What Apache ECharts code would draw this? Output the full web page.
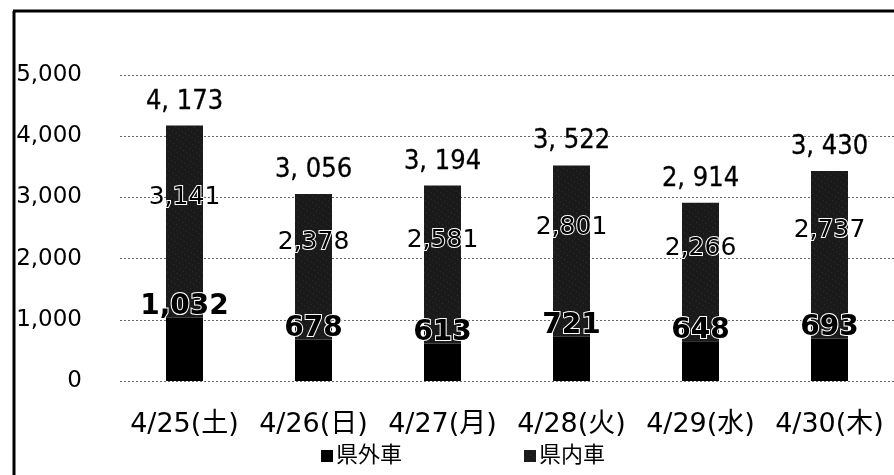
<!DOCTYPE html>
<html>
<head>
<meta charset="utf-8">
<script src="https://cdn.jsdelivr.net/npm/echarts@6/dist/echarts.min.js"></script>
<style>
  html, body { margin: 0; padding: 0; background: #fff; }
  #chart { width: 894px; height: 475px; }
</style>
</head>
<body>
<div id="chart"></div>
<script>
// 日付ごとの県外車・県内車の台数
const categories = ['4/25(土)', '4/26(日)', '4/27(月)', '4/28(火)', '4/29(水)', '4/30(木)'];
const outsideCars = [1032, 678, 613, 721, 648, 693];     // 県外車
const insideCars = [3141, 2378, 2581, 2801, 2266, 2737]; // 県内車
const yTicks = [0, 1000, 2000, 3000, 4000, 5000];

const totals = categories.map((_, i) => outsideCars[i] + insideCars[i]);

const sansFont = '"DejaVu Sans", "Noto Sans CJK JP", sans-serif';
const narrowFont = '"Liberation Sans Narrow", "DejaVu Sans Condensed", "Liberation Sans", sans-serif';
const fmt = v => Number(v).toLocaleString('en-US');

const chart = echarts.init(document.getElementById('chart'));

const speckle = {
  symbol: 'rect',
  symbolSize: 0.5,
  dashArrayX: [1, 3],
  dashArrayY: [1, 4],
  rotation: 0.6,
  color: 'rgba(255,255,255,0.4)'
};

chart.setOption({
  animation: false,
  backgroundColor: '#fff',
  grid: { left: 120, right: 0, top: 75, bottom: 94, containLabel: false },
  legend: {
    left: 316,
    top: 440,
    itemWidth: 12,
    itemHeight: 12,
    itemGap: 122,
    icon: 'rect',
    textStyle: { fontFamily: sansFont, fontSize: 22, color: '#000', padding: [0, 0, 0, -2] },
    data: ['県外車', '県内車']
  },
  xAxis: {
    type: 'category',
    data: categories,
    axisLine: { show: false },
    axisTick: { show: false },
    axisLabel: { fontFamily: sansFont, fontSize: 27, color: '#000', margin: 30, interval: 0 }
  },
  yAxis: {
    type: 'value',
    min: yTicks[0],
    max: yTicks[yTicks.length - 1],
    interval: 1000,
    axisLine: { show: false },
    axisTick: { show: false },
    axisLabel: { fontFamily: sansFont, fontSize: 23, color: '#000', margin: 38, formatter: fmt },
    splitLine: { lineStyle: { color: '#666', type: [2, 2], width: 1 } }
  },
  series: [
    {
      name: '県外車',
      type: 'bar',
      stack: 'cars',
      data: outsideCars,
      barWidth: 37,
      itemStyle: { color: '#000' },
      label: {
        show: true,
        position: 'top',
        distance: -3,
        formatter: p => fmt(p.value),
        fontFamily: sansFont,
        fontWeight: 'bold',
        fontSize: 28,
        color: '#000',
        textBorderColor: '#fff',
        textBorderWidth: 2
      },
      z: 3
    },
    {
      name: '県内車',
      type: 'bar',
      stack: 'cars',
      data: insideCars,
      barWidth: 37,
      itemStyle: { color: '#1a1a1a', decal: speckle },
      label: {
        show: true,
        position: 'inside',
        offset: [0, -24],
        formatter: p => fmt(p.value),
        fontFamily: sansFont,
        fontSize: 25,
        color: '#000',
        textBorderColor: '#fff',
        textBorderWidth: 2
      },
      z: 2
    },
    {
      name: '合計',
      type: 'scatter',
      data: totals,
      symbolSize: 1,
      itemStyle: { color: 'rgba(0,0,0,0)' },
      silent: true,
      label: {
        show: true,
        position: 'top',
        distance: 10,
        formatter: p => fmt(p.value).replace(',', ', '),
        fontFamily: narrowFont,
        fontSize: 27,
        color: '#000',
        opacity: 1,
        textBorderColor: '#000',
        textBorderWidth: 0.3
      },
      z: 4
    }
  ],
  graphic: [
    { type: 'line', shape: { x1: 14, y1: 11, x2: 14, y2: 475 }, style: { stroke: '#000', lineWidth: 3 } },
    { type: 'line', shape: { x1: 13, y1: 11, x2: 894, y2: 11 }, style: { stroke: '#000', lineWidth: 3 } }
  ]
});
</script>
</body>
</html>
